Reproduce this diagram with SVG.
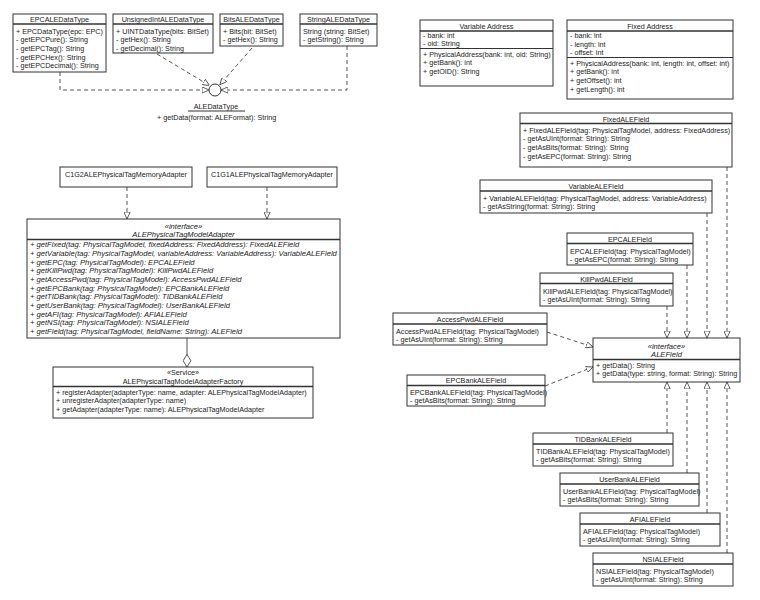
<svg xmlns="http://www.w3.org/2000/svg" width="760" height="600" viewBox="0 0 760 600">
<style>
.b{fill:#fff;stroke:#333;stroke-width:1}
.s{stroke:#333;stroke-width:1.6}
.s1{stroke:#333;stroke-width:1}
text{font-family:"Liberation Sans",Arial,sans-serif;font-size:7.2px;fill:#222}
.c{text-anchor:middle}
.i{font-style:italic;font-size:7.6px}
.d{fill:none;stroke:#555;stroke-width:1;stroke-dasharray:4 3}
.l{fill:none;stroke:#555;stroke-width:1}
</style>
<defs>
<marker id="tri" viewBox="0 0 10 10" refX="10" refY="5" markerWidth="7" markerHeight="7" markerUnits="userSpaceOnUse" orient="auto">
<path d="M0,0.5 L10,5 L0,9.5 Z" fill="#fff" stroke="#444" stroke-width="1.2"/>
</marker>
<marker id="dia" viewBox="0 0 14 10" refX="14" refY="5" markerWidth="14" markerHeight="9" markerUnits="userSpaceOnUse" orient="auto">
<path d="M0,5 L7,0.7 L14,5 L7,9.3 Z" fill="#fff" stroke="#444" stroke-width="1"/>
</marker>
</defs>
<rect width="760" height="600" fill="#fff"/>

<g id="connectors">
<path class="d" d="M60,72 V90 H209" marker-end="url(#tri)"/>
<path class="d" d="M347,46 V90 H221" marker-end="url(#tri)"/>
<path class="d" d="M157,54 L209.5,85.5" marker-end="url(#tri)"/>
<path class="d" d="M252,48 L219.8,84.8" marker-end="url(#tri)"/>
<path class="d" d="M127,187 V219" marker-end="url(#tri)"/>
<path class="d" d="M267,187 V219" marker-end="url(#tri)"/>
<path class="l" d="M187,338 V367" marker-end="url(#dia)"/>
<path class="d" d="M727,167 V338" marker-end="url(#tri)"/>
<path class="d" d="M707,213 V338" marker-end="url(#tri)"/>
<path class="d" d="M687,265 V338" marker-end="url(#tri)"/>
<path class="d" d="M667,306 V338" marker-end="url(#tri)"/>
<path class="d" d="M547,332 L593,347" marker-end="url(#tri)"/>
<path class="d" d="M545,386 L593,367" marker-end="url(#tri)"/>
<path class="d" d="M667,433 V382" marker-end="url(#tri)"/>
<path class="d" d="M687,473 V382" marker-end="url(#tri)"/>
<path class="d" d="M707,513 V382" marker-end="url(#tri)"/>
<path class="d" d="M727,553 V382" marker-end="url(#tri)"/>
</g>

<g id="EPCALEDataType">
<rect class="b" x="13" y="14" width="93" height="58"/>
<text class="c" x="59.5" y="21.7">EPCALEDataType</text>
<line class="s" x1="13" y1="24" x2="106" y2="24"/>
<text x="16" y="33.5">+ EPCDataType(epc: EPC)</text>
<text x="16" y="42.2">- getEPCPure(): String</text>
<text x="16" y="50.8">- getEPCTag(): String</text>
<text x="16" y="59.5">- getEPCHex(): String</text>
<text x="16" y="68.1">- getEPCDecimal(): String</text>
</g>

<g id="UnsignedIntALEDataType">
<rect class="b" x="113" y="14" width="100" height="39"/>
<text class="c" x="163" y="21.7">UnsignedIntALEDataType</text>
<line class="s" x1="113" y1="24" x2="213" y2="24"/>
<text x="116" y="33.5">+ UINTDataType(bits: BitSet)</text>
<text x="116" y="42.2">- getHex(): String</text>
<text x="116" y="50.8">- getDecimal(): String</text>
</g>

<g id="BitsALEDataType">
<rect class="b" x="220" y="14" width="63" height="32"/>
<text class="c" x="251.5" y="21.7">BitsALEDataType</text>
<line class="s" x1="220" y1="24" x2="283" y2="24"/>
<text x="223" y="33.5">+ Bits(bit: BitSet)</text>
<text x="223" y="42.2">- getHex(): String</text>
</g>

<g id="StringALEDataType">
<rect class="b" x="300" y="14" width="77" height="32"/>
<text class="c" x="338.5" y="21.7">StringALEDataType</text>
<line class="s" x1="300" y1="24" x2="377" y2="24"/>
<text x="303" y="33.5">String (string: BitSet)</text>
<text x="303" y="42.2">- getString(): String</text>
</g>

<g id="ALEDataType">
<circle cx="215" cy="90" r="6" fill="#fff" stroke="#333" stroke-width="1"/>
<text class="c" x="216" y="108.5">ALEDataType</text>
<line class="s1" x1="188" y1="111" x2="245" y2="111"/>
<text x="157" y="119.7">+ getData(format: ALEFormat): String</text>
</g>

<g id="C1G2ALEPhysicalTagMemoryAdapter">
<rect class="b" x="60" y="167" width="132" height="20"/>
<text class="c" x="126" y="176.5">C1G2ALEPhysicalTagMemoryAdapter</text>
</g>

<g id="C1G1ALEPhysicalTagMemoryAdapter">
<rect class="b" x="207" y="167" width="130" height="20"/>
<text class="c" x="272" y="176.5">C1G1ALEPhysicalTagMemoryAdapter</text>
</g>

<g id="ALEPhysicalTagModelAdapter">
<rect class="b" x="27" y="219" width="313" height="119"/>
<text class="c i" x="183.5" y="228.5">«interface»</text>
<text class="c i" x="183.5" y="237">ALEPhysicalTagModelAdapter</text>
<line class="s" x1="27" y1="239.5" x2="340" y2="239.5"/>
<text class="i" x="30" y="247.4">+ getFixed(tag: PhysicalTagModel, fixedAddress: FixedAddress): FixedALEField</text>
<text class="i" x="30" y="256">+ getVariable(tag: PhysicalTagModel, variableAddress: VariableAddress): VariableALEField</text>
<text class="i" x="30" y="264.7">+ getEPC(tag: PhysicalTagModel): EPCALEField</text>
<text class="i" x="30" y="273.3">+ getKillPwd(tag: PhysicalTagModel): KillPwdALEField</text>
<text class="i" x="30" y="282">+ getAccessPwd(tag: PhysicalTagModel): AccessPwdALEField</text>
<text class="i" x="30" y="290.6">+ getEPCBank(tag: PhysicalTagModel): EPCBankALEField</text>
<text class="i" x="30" y="299.3">+ getTIDBank(tag: PhysicalTagModel): TIDBankALEField</text>
<text class="i" x="30" y="307.9">+ getUserBank(tag: PhysicalTagModel): UserBankALEField</text>
<text class="i" x="30" y="316.6">+ getAFI(tag: PhysicalTagModel): AFIALEField</text>
<text class="i" x="30" y="325.2">+ getNSI(tag: PhysicalTagModel): NSIALEField</text>
<text class="i" x="30" y="333.9">+ getField(tag: PhysicalTagModel, fieldName: String): ALEField</text>
</g>

<g id="ALEPhysicalTagModelAdapterFactory">
<rect class="b" x="53" y="367" width="260" height="51"/>
<text class="c" x="183" y="374.8">«Service»</text>
<text class="c" x="183" y="383.5">ALEPhysicalTagModelAdapterFactory</text>
<line class="s" x1="53" y1="386.5" x2="313" y2="386.5"/>
<text x="56" y="394.7">+ registerAdapter(adapterType: name, adapter: ALEPhysicalTagModelAdapter)</text>
<text x="56" y="403.4">+ unregisterAdapter(adapterType: name)</text>
<text x="56" y="412">+ getAdapter(adapterType: name): ALEPhysicalTagModelAdapter</text>
</g>

<g id="VariableAddress">
<rect class="b" x="420" y="20" width="133" height="66"/>
<text class="c" x="486.5" y="28.7">Variable Address</text>
<line class="s" x1="420" y1="31" x2="553" y2="31"/>
<text x="423" y="37.7">- bank: int</text>
<text x="423" y="46.4">- oid: String</text>
<line class="s1" x1="420" y1="48.5" x2="553" y2="48.5"/>
<text x="423" y="56.7">+ PhysicalAddress(bank: int, oid: String)</text>
<text x="423" y="65.4">+ getBank(): int</text>
<text x="423" y="74">+ getOID(): String</text>
</g>

<g id="FixedAddress">
<rect class="b" x="567" y="20" width="166" height="79"/>
<text class="c" x="650" y="28.7">Fixed Address</text>
<line class="s" x1="567" y1="31" x2="733" y2="31"/>
<text x="570" y="37.9">- bank: int</text>
<text x="570" y="46.6">- length: int</text>
<text x="570" y="55.2">- offset: int</text>
<line class="s1" x1="567" y1="57.5" x2="733" y2="57.5"/>
<text x="570" y="65.7">+ PhysicalAddress(bank: int, length: int, offset: int)</text>
<text x="570" y="74.4">+ getBank(): int</text>
<text x="570" y="83">+ getOffset(): int</text>
<text x="570" y="91.7">+ getLength(): int</text>
</g>

<g id="FixedALEField">
<rect class="b" x="520" y="113" width="212" height="54"/>
<text class="c" x="626" y="121.5">FixedALEField</text>
<line class="s" x1="520" y1="123.5" x2="732" y2="123.5"/>
<text x="523" y="132.7">+ FixedALEField(tag: PhysicalTagModel, address: FixedAddress)</text>
<text x="523" y="141.4">- getAsUInt(format: String): String</text>
<text x="523" y="150">- getAsBits(format: String): String</text>
<text x="523" y="158.7">- getAsEPC(format: String): String</text>
</g>

<g id="VariableALEField">
<rect class="b" x="480" y="180" width="232" height="33"/>
<text class="c" x="596" y="188.5">VariableALEField</text>
<line class="s" x1="480" y1="191" x2="712" y2="191"/>
<text x="483" y="200.7">+ VariableALEField(tag: PhysicalTagModel, address: VariableAddress)</text>
<text x="483" y="209">- getAsString(format: String): String</text>
</g>

<g id="EPCALEField">
<rect class="b" x="567" y="233" width="126" height="32"/>
<text class="c" x="630" y="241.5">EPCALEField</text>
<line class="s" x1="567" y1="243.5" x2="693" y2="243.5"/>
<text x="570" y="253.7">EPCALEField(tag: PhysicalTagModel)</text>
<text x="570" y="262.2">- getAsEPC(format: String): String</text>
</g>

<g id="KillPwdALEField">
<rect class="b" x="540" y="273" width="133" height="33"/>
<text class="c" x="606.5" y="281.5">KillPwdALEField</text>
<line class="s" x1="540" y1="283.5" x2="673" y2="283.5"/>
<text x="543" y="293.7">KillPwdALEField(tag: PhysicalTagModel)</text>
<text x="543" y="302.2">- getAsUInt(format: String): String</text>
</g>

<g id="AccessPwdALEField">
<rect class="b" x="393" y="313" width="154" height="32"/>
<text class="c" x="470" y="321.5">AccessPwdALEField</text>
<line class="s" x1="393" y1="324" x2="547" y2="324"/>
<text x="396" y="333.5">AccessPwdALEField(tag: PhysicalTagModel)</text>
<text x="396" y="342">- getAsUInt(format: String): String</text>
</g>

<g id="ALEField">
<rect class="b" x="593" y="338" width="147" height="44"/>
<text class="c i" x="666.5" y="348.5">«interface»</text>
<text class="c i" x="666.5" y="356.5">ALEField</text>
<line class="s" x1="593" y1="359.5" x2="740" y2="359.5"/>
<text x="596" y="367.7">+ getData(): String</text>
<text x="596" y="376">+ getData(type: string, format: String): String</text>
</g>

<g id="EPCBankALEField">
<rect class="b" x="407" y="375" width="138" height="31"/>
<text class="c" x="476" y="383.3">EPCBankALEField</text>
<line class="s" x1="407" y1="385.5" x2="545" y2="385.5"/>
<text x="410" y="394.7">EPCBankALEField(tag: PhysicalTagModel)</text>
<text x="410" y="403">- getAsBits(format: String): String</text>
</g>

<g id="TIDBankALEField">
<rect class="b" x="533" y="433" width="140" height="33"/>
<text class="c" x="603" y="441.5">TIDBankALEField</text>
<line class="s" x1="533" y1="444" x2="673" y2="444"/>
<text x="536" y="453.7">TIDBankALEField(tag: PhysicalTagModel)</text>
<text x="536" y="462">- getAsBits(format: String): String</text>
</g>

<g id="UserBankALEField">
<rect class="b" x="560" y="473" width="139" height="33"/>
<text class="c" x="629.5" y="481.5">UserBankALEField</text>
<line class="s" x1="560" y1="484" x2="699" y2="484"/>
<text x="563" y="493.7">UserBankALEField(tag: PhysicalTagModel)</text>
<text x="563" y="502.2">- getAsBits(format: String): String</text>
</g>

<g id="AFIALEField">
<rect class="b" x="580" y="513" width="140" height="33"/>
<text class="c" x="650" y="521.5">AFIALEField</text>
<line class="s" x1="580" y1="524" x2="720" y2="524"/>
<text x="583" y="533.7">AFIALEField(tag: PhysicalTagModel)</text>
<text x="583" y="542">- getAsUInt(format: String): String</text>
</g>

<g id="NSIALEField">
<rect class="b" x="593" y="553" width="140" height="33"/>
<text class="c" x="663" y="561.5">NSIALEField</text>
<line class="s" x1="593" y1="564" x2="733" y2="564"/>
<text x="596" y="573.7">NSIALEField(tag: PhysicalTagModel)</text>
<text x="596" y="582">- getAsUInt(format: String): String</text>
</g>
</svg>
